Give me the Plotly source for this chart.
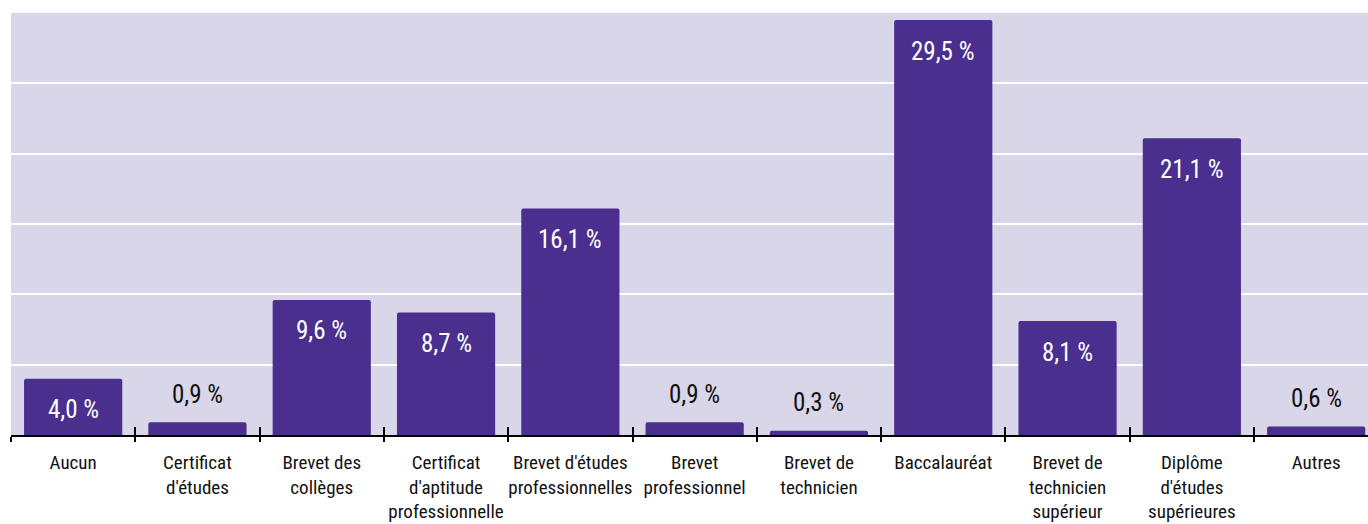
import plotly.graph_objects as go

categories = [
    "Aucun",
    "Certificat<br>d'études",
    "Brevet des<br>collèges",
    "Certificat<br>d'aptitude<br>professionnelle",
    "Brevet d'études<br>professionnelles",
    "Brevet<br>professionnel",
    "Brevet de<br>technicien",
    "Baccalauréat",
    "Brevet de<br>technicien<br>supérieur",
    "Diplôme<br>d'études<br>supérieures",
    "Autres",
]
values = [4.0, 0.9, 9.6, 8.7, 16.1, 0.9, 0.3, 29.5, 8.1, 21.1, 0.6]
value_labels = ["4,0 %", "0,9 %", "9,6 %", "8,7 %", "16,1 %", "0,9 %",
                "0,3 %", "29,5 %", "8,1 %", "21,1 %", "0,6 %"]

FONT = ("Roboto Condensed, Noto Sans ExtraCondensed, Noto Sans Condensed, "
        "Open Sans Condensed, Liberation Sans Narrow, DejaVu Sans Condensed, sans-serif")
BAR = "#4a2f8f"
BG = "#d9d6ea"

fig = go.Figure()
fig.add_trace(go.Bar(
    x=categories, y=values,
    marker=dict(color=BAR, line=dict(width=0), cornerradius=2),
    hoverinfo="skip", showlegend=False,
))
# helper trace to carry the inner tick marks axis
fig.add_trace(go.Scatter(
    x=categories, y=[None] * len(categories), xaxis="x2",
    mode="markers", showlegend=False, hoverinfo="skip",
))

annotations = []
for c, v, t in zip(categories, values, value_labels):
    inside = v >= 2
    annotations.append(dict(
        x=c, y=v, xref="x", yref="y", text=t, showarrow=False,
        yanchor="middle", yshift=-31 if inside else 28,
        font=dict(family=FONT, size=25, color="white" if inside else "#111111"),
    ))

xr = [-0.5, 10.417]
fig.update_layout(
    width=1368, height=524,
    margin=dict(l=11, r=0, t=13, b=89),
    paper_bgcolor="white", plot_bgcolor=BG,
    bargap=0.21,
    font=dict(family=FONT, size=19, color="#111111"),
    annotations=annotations,
    xaxis=dict(
        type="category", categoryorder="array", categoryarray=categories,
        range=xr, tickson="boundaries", ticks="outside", ticklen=5,
        tickwidth=2, tickcolor="black", showline=True, linecolor="black",
        linewidth=2, showgrid=False, tickangle=0, automargin=False,
        ticklabelstandoff=9,
        tickfont=dict(family=FONT, size=19, color="#111111"),
        fixedrange=True,
    ),
    xaxis2=dict(
        type="category", categoryorder="array", categoryarray=categories,
        range=xr, overlaying="x", anchor="y", side="bottom",
        tickson="boundaries", ticks="inside", ticklen=8, tickwidth=2,
        tickcolor="black", showticklabels=False, showline=False, showgrid=False,
        automargin=False,
    ),
    yaxis=dict(
        range=[0, 30], dtick=5, showgrid=True, gridcolor="white", gridwidth=2,
        showticklabels=False, ticks="", zeroline=False, showline=False,
        automargin=False, fixedrange=True,
    ),
)

fig.write_html(
    "out.html",
    config={"displayModeBar": False, "staticPlot": True},
    post_script="document.body.style.margin='0';document.body.style.overflow='hidden';",
)
